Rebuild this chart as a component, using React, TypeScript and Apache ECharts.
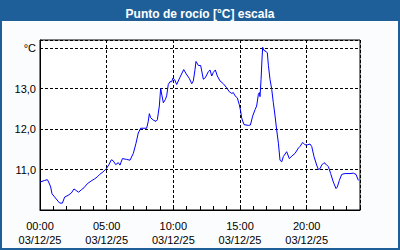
import React, { useEffect, useRef } from "react";
import * as echarts from "echarts";

const hours: number[] = [
  0.0, 0.35, 0.55, 0.65, 0.8, 0.9, 1.1, 1.35, 1.48, 1.68, 1.85, 2.1, 2.35, 2.55, 2.72, 2.9,
  3.1, 3.3, 3.55, 3.85, 4.1, 4.3, 4.48, 4.72, 4.97, 5.15, 5.35, 5.48, 5.68, 5.87, 6.0, 6.18,
  6.5, 6.75, 7.0, 7.2, 7.37, 7.55, 8.0, 8.12, 8.2, 8.3, 8.5, 8.7, 8.8, 8.95, 9.05, 9.15,
  9.25, 9.4, 9.5, 9.62, 9.75, 9.88, 9.97, 10.1, 10.25, 10.5, 10.78, 10.97, 11.2, 11.38, 11.5,
  11.63, 11.7, 11.88, 12.05, 12.25, 12.4, 12.63, 12.75, 12.88, 13.0, 13.15, 13.3, 13.5, 13.75,
  14.0, 14.2, 14.38, 14.5, 14.63, 14.8, 14.95, 15.05, 15.13, 15.3, 15.63, 15.78, 15.95, 16.13,
  16.25, 16.38, 16.45, 16.5, 16.58, 16.65, 16.7, 16.8, 16.95, 17.05, 17.13, 17.25, 17.38,
  17.5, 17.63, 17.75, 17.88, 18.0, 18.13, 18.25, 18.5, 18.7, 18.88, 19.13, 19.38, 19.5, 19.7,
  19.88, 20.05, 20.25, 20.38, 20.55, 20.75, 20.88, 21.0, 21.13, 21.3, 21.45, 21.63, 21.8,
  22.0, 22.2, 22.3, 22.45, 22.63, 22.88, 23.25, 23.5, 23.7, 23.88,
];

const dewPoint: number[] = [
  10.69, 10.73, 10.75, 10.69, 10.57, 10.4, 10.32, 10.22, 10.17, 10.17, 10.32, 10.36, 10.42,
  10.52, 10.48, 10.44, 10.5, 10.55, 10.65, 10.72, 10.77, 10.82, 10.88, 10.94, 11.02, 11.11,
  11.24, 11.22, 11.12, 11.17, 11.11, 11.27, 11.25, 11.23, 11.4, 11.65, 11.9, 12.02, 12.02,
  12.19, 12.38, 12.28, 12.22, 12.19, 12.23, 12.57, 13.0, 12.82, 12.65, 12.73, 12.82, 13.1,
  13.17, 13.17, 13.26, 13.22, 13.1, 13.28, 13.47, 13.36, 13.25, 13.12, 13.19, 13.48, 13.67,
  13.57, 13.57, 13.23, 13.27, 13.42, 13.46, 13.31, 13.4, 13.46, 13.31, 13.19, 13.12, 13.02,
  12.92, 12.88, 12.9, 12.82, 12.77, 12.6, 12.44, 12.27, 12.11, 12.09, 12.1, 12.32, 12.48,
  12.57, 12.86, 12.9, 12.8, 13.23, 13.73, 14.02, 13.94, 13.92, 13.88, 13.57, 13.23, 12.98,
  12.65, 12.32, 11.98, 11.65, 11.23, 11.19, 11.32, 11.44, 11.27, 11.33, 11.4, 11.53, 11.57,
  11.67, 11.61, 11.61, 11.63, 11.57, 11.32, 11.11, 11.0, 11.02, 11.11, 11.17, 11.13, 11.07,
  10.9, 10.69, 10.53, 10.57, 10.73, 10.88, 10.9, 10.9, 10.91, 10.88, 10.73,
];

const dateLabel = "03/12/25";
const titleText = "Punto de rocío [°C] escala";
const unitLabel = "°C";

export default function App() {
  const ref = useRef<HTMLDivElement>(null);
  useEffect(() => {
    if (!ref.current) return;
    const chart = echarts.init(ref.current, null, { renderer: "svg" });
    const data = hours.map((h, i) => [h, dewPoint[i]]);
    const font = "Liberation Sans, Arial, sans-serif";
    chart.setOption({
      animation: false,
      backgroundColor: "#FBFCFE",
      graphic: [
        { type: "rect", shape: { x: 0, y: 0, width: 400, height: 21 }, style: { fill: "#1F5F99" }, z: 0 },
        { type: "rect", shape: { x: 1, y: 1, width: 398, height: 248 }, style: { fill: "none", stroke: "#1F5F99", lineWidth: 2 }, z: 0 },
      ],
      title: {
        text: titleText,
        left: "center",
        top: 3,
        textStyle: { color: "#ffffff", fontWeight: "bold", fontSize: 12, fontFamily: font },
      },
      grid: {
        left: 40, right: 40, top: 40, bottom: 40,
        show: true, borderColor: "#000", borderWidth: 1, backgroundColor: "#ffffff",
      },
      xAxis: {
        type: "value",
        min: 0, max: 24, interval: 5,
        axisLine: { show: true, lineStyle: { color: "#000", width: 1 } },
        axisTick: { show: true, inside: true, length: 4, lineStyle: { color: "#000" } },
        minorTick: { show: true, splitNumber: 5, length: 4, lineStyle: { color: "#000" } },
        splitLine: { show: true, lineStyle: { color: "#000", type: [3, 2], width: 1 } },
        axisLabel: {
          margin: 9,
          color: "#000",
          fontSize: 11,
          lineHeight: 14,
          fontFamily: font,
          showMaxLabel: false,
          formatter: (v: number) =>
            v % 5 === 0 && v < 24 ? String(v).padStart(2, "0") + ":00\n" + dateLabel : "",
        },
      },
      yAxis: {
        type: "value",
        min: 10, max: 14.2, interval: 1,
        axisLine: { show: true, lineStyle: { color: "#000", width: 1 } },
        axisTick: { show: false },
        splitLine: { show: true, lineStyle: { color: "#000", type: [3, 2], width: 1 } },
        axisLabel: {
          margin: 4,
          color: "#000",
          fontSize: 11,
          fontFamily: font,
          formatter: (v: number) => {
            if (Math.abs(v - 14) < 1e-6) return unitLabel;
            if (Math.abs(v - 10) < 1e-6 || Math.abs(v - Math.round(v)) > 1e-6) return "";
            return v.toFixed(1).replace(".", ",");
          },
        },
      },
      series: [
        {
          type: "line",
          data,
          showSymbol: false,
          symbol: "none",
          lineStyle: { color: "#0000FF", width: 1 },
        },
      ],
    });
    return () => chart.dispose();
  }, []);
  return <div ref={ref} style={{ position: "fixed", left: 0, top: 0, width: 400, height: 250 }} />;
}
